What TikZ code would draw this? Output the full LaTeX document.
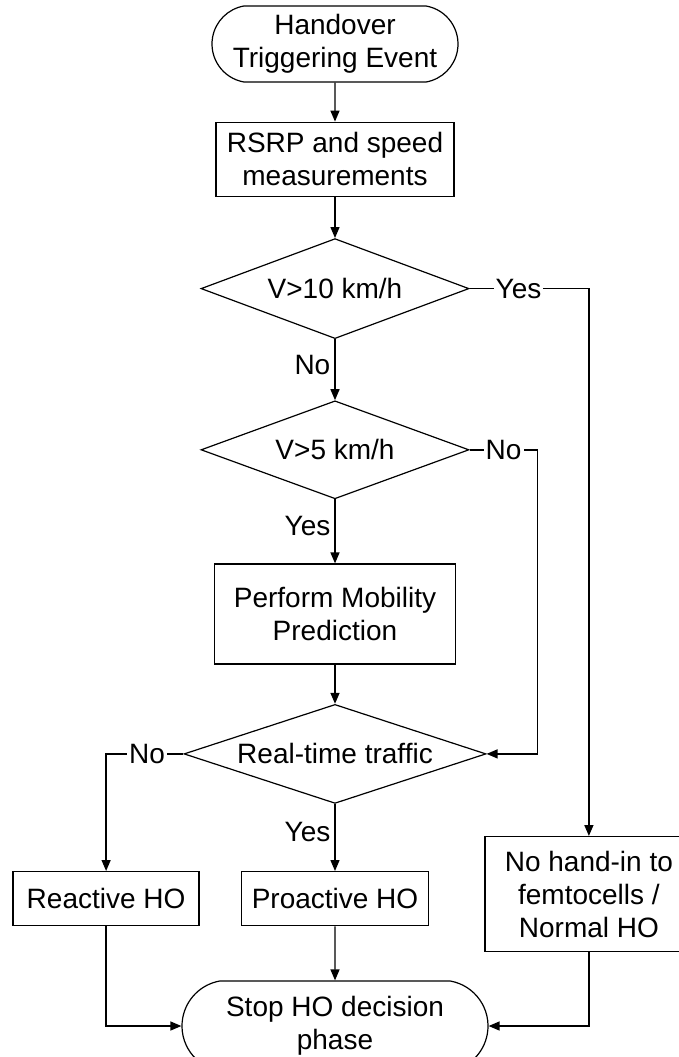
\documentclass[tikz,border=0pt]{standalone}
\usepackage{fontspec}
\setmainfont{Liberation Sans}
\usetikzlibrary{positioning,shapes.geometric,shapes.misc,arrows.meta}

\tikzset{
  flowline/.style={line width=1.4pt, -{Triangle[length=11pt,width=9pt]}},
  terminal/.style={draw, line width=1.2pt, rounded rectangle, rounded rectangle arc length=160, align=center, inner sep=0pt},
  process/.style={draw, line width=1.4pt, rectangle, align=center, inner sep=0pt},
  decision/.style={draw, line width=1.2pt, diamond, shape aspect=2.8, align=center, inner sep=0pt},
  answer/.style={fill=white, inner sep=2pt},
  sidelabel/.style={left, inner sep=4pt},
}

\begin{document}
\begin{tikzpicture}[font=\fontsize{28}{33}\selectfont]
    \useasboundingbox (0pt,0pt) rectangle (679pt,-1057pt);
    \node[terminal, minimum width=246pt, minimum height=76pt] (start) at (335pt,-44pt) {Handover\\Triggering Event};
    \node[process, minimum width=238pt, minimum height=74pt, below=39pt of start] (measure) {RSRP and speed\\measurements};
    \node[decision, minimum width=268pt, minimum height=100pt, below=41pt of measure] (fast) {V>10 km/h};
    \node[decision, minimum width=268pt, minimum height=98pt, below=61pt of fast] (slow) {V>5 km/h};
    \node[process, minimum width=241pt, minimum height=100pt, below=64pt of slow] (predict) {Perform Mobility\\Prediction};
    \node[decision, shape aspect=3.05, minimum width=302pt, minimum height=99pt, below=39pt of predict] (realtime) {Real-time traffic};
    \node[process, minimum width=187pt, minimum height=54pt, below=67pt of realtime] (proactive) {Proactive HO};
    \node[process, minimum width=186pt, minimum height=54pt, left=41pt of proactive] (reactive) {Reactive HO};
    \node[process, minimum width=208pt, minimum height=115pt, right=55pt of proactive, yshift=4.5pt] (normal) {No hand-in to\\femtocells /\\Normal HO};
    \node[terminal, minimum width=306pt, minimum height=90pt, below=54pt of proactive] (stop) {Stop HO decision\\phase};

    \draw[flowline] (start) -- (measure);
    \draw[flowline] (measure) -- (fast);
    \draw[flowline] (fast) -- node[sidelabel, pos=0.42] {No} (slow);
    \draw[flowline] (slow) -- node[sidelabel, pos=0.42] {Yes} (predict);
    \draw[flowline] (predict) -- (realtime);
    \draw[flowline] (realtime) -- node[sidelabel, pos=0.42] {Yes} (proactive);
    \draw[flowline] (fast.east) -- node[answer, pos=0.41] {Yes} (fast.east -| normal.north) -- (normal.north);
    \draw[flowline] (slow.east) -- node[answer, pos=0.5] {No} ++(68pt,0) |- (realtime.east);
    \draw[flowline] (realtime.west) -- node[answer, pos=0.47] {No} (realtime.west -| reactive.north) -- (reactive.north);
    \draw[flowline] (reactive.south) |- (stop.west);
    \draw[flowline] (proactive) -- (stop);
    \draw[flowline] (normal.south) |- (stop.east);
\end{tikzpicture}
\end{document}
